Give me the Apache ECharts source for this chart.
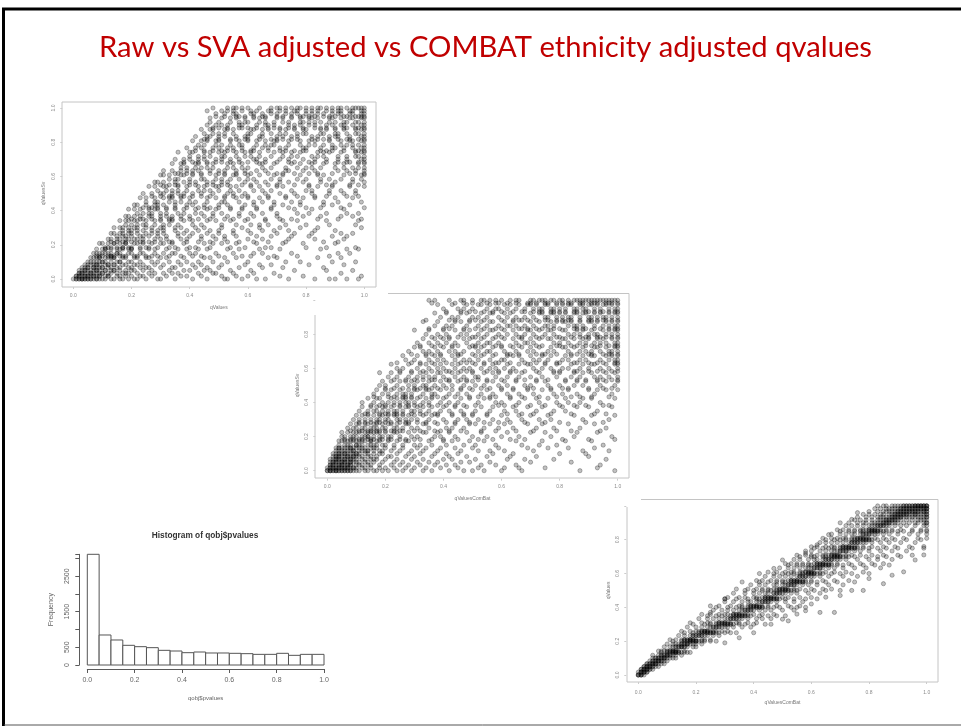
<!DOCTYPE html>
<html><head><meta charset="utf-8">
<style>html,body{margin:0;padding:0;background:#fff;overflow:hidden}
#plots,#frame{position:absolute;left:0;top:0;width:961px;height:726px}
#plots{filter:blur(0.5px)}</style>
<script src="https://cdn.jsdelivr.net/npm/echarts@6/dist/echarts.min.js"></script>
</head><body><div id="plots"></div><div id="frame"></div>
<script>
const slideTitle = 'Raw vs SVA adjusted vs COMBAT ethnicity adjusted qvalues';
const histTitle = 'Histogram of qobj$pvalues';
const histBinWidth = 0.05;
const histCounts = [3117,845,704,554,516,488,413,394,347,366,338,338,329,319,300,300,329,272,300,300];
const histYLabels = [0,500,1500,2500];

// Each row holds the x readings (hundredths) of points read at one y level; the level lists give each row's y in sixtieths.
const svaLevels = [0,1,2,3,4,5,6,7.5,9,8,10.5,12.5,11,14,16,13,18,15,20.5,17,22,19,24.5,21,26,23,28.5,25,30,27,32.5,29,34,31,36.5,33,38,35,40.5,37,42,39,44.5,41,46,43,48.5,45,50,47,52.5,49,54,51,56.5,53,58,55,59,57,60];
const combatLevels = [0,1,2,3,4,5,6,8,7,10.5,9,12,13.5,11,15,16.5,14,18,19.5,17,21,22.5,20,24,25.5,23,27,28.5,26,30,31.5,29,33,34.5,32,36,37.5,35,39,40.5,38,42,43.5,41,45,46.5,44,48,49.5,47,51,52.5,50,54,55.5,53,57,58.5,56,59,60];
const directLevels = [0,1,2,3,4,5,6,7,8.5,8,10,11,12.5,12,14,15.5,15,17,18.5,18,20,21.5,21,23,24.5,24,26,27.5,27,29,30.5,30,32,33.5,33,35,36.5,36,38,39.5,39,41,42.5,42,44,45.5,45,47,48.5,48,50,51.5,51,53,54,55,56,57,58,59,60];
const directOutliers = [[30,.45],[25,.37],[36,.55],[42,.6],[47,.63],[50,.68],[58,.72],[62,.77],[66,.83],[70,.9],[74,.92],[76,.96],[46,.3],[50,.33],[52,.32],[55,.36],[58,.38],[63,.37],[68,.37],[60,.42],[65,.46],[70,.47],[74,.5],[78,.5],[85,.54],[80,.57],[88,.59],[92,.61],[96,.68],[99,.71],[99,.76],[40,.25],[35,.22],[30,.19]];
const svaRows = [
[0,1,1,2,2,3,3,3,4,4,5,5,6,6,7,8,8,9,10,11,13,14,16,17,19,21,22,25,29,30,35,41,46,52,53,58,63,66,74,83,88,90,94,98],
[1,1,2,2,3,4,4,5,5,6,7,7,8,9,9,11,12,12,15,16,18,20,23,24,27,32,37,39,44,51,56,60,71,79,99],
[2,2,3,3,4,5,6,6,7,8,9,10,10,12,13,15,17,18,19,22,26,28,31,34,36,43,48,49,55,62,69,92],
[2,3,4,4,5,6,7,8,8,9,11,11,13,14,14,16,18,20,21,24,27,33,38,40,45,47,54,61,76,87,96],
[3,4,5,5,7,7,8,9,10,10,12,13,15,16,19,20,23,25,26,30,34,35,42,46,50,57,65,72,86],
[4,5,6,7,8,8,9,11,12,12,14,14,17,18,21,22,24,28,31,37,41,44,51,59,64,68,81,93],
[5,6,7,8,9,10,10,11,13,15,16,16,19,20,23,27,29,33,36,39,43,48,53,60,73,78,89,97],
[6,7,8,9,9,11,12,13,14,14,17,18,21,22,25,26,30,32,38,45,47,52,56,67,70,84,92],
[7,8,9,10,11,12,13,15,15,16,19,20,23,24,28,31,34,35,40,42,49,55,62,65,75,91,95],
[8,9,10,12,13,13,14,16,17,18,21,22,25,27,29,33,37,41,44,50,58,61,69,77,88],
[8,10,11,11,13,15,16,17,19,20,20,23,26,28,32,36,39,43,46,53,57,64,71,85,94,98],
[9,10,12,14,14,16,18,18,21,22,24,27,30,31,34,38,45,48,51,56,63,72,79,90],
[11,12,13,15,17,17,19,20,23,25,26,29,33,35,40,42,47,54,59,66,68,80,87,97],
[12,13,15,16,18,19,21,22,24,28,30,32,37,39,44,49,52,60,65,74,83,93],
[13,14,16,17,19,20,22,25,27,29,31,36,38,41,46,50,55,61,70,76,82,92,96],
[13,15,17,18,20,23,24,26,28,33,34,39,43,47,53,57,62,67,73,86,91],
[14,16,17,19,21,22,25,27,30,31,35,37,42,45,51,58,64,71,78,84,99],
[15,17,18,20,23,24,26,29,32,36,40,44,48,52,56,63,68,75,81,89,94],
[16,18,19,21,22,25,28,30,33,34,38,41,46,49,54,59,66,72,77,87,98],
[17,19,20,22,24,27,29,31,35,39,43,47,50,55,60,65,69,74,83,90],
[18,19,21,23,26,27,30,32,34,37,40,45,48,53,57,62,70,79,85,92,96],
[18,20,22,24,25,28,31,33,36,41,44,51,56,61,64,67,73,80,88,97],
[19,21,23,26,28,29,32,35,38,42,46,49,54,58,63,68,76,82,93],
[20,23,24,27,30,33,34,37,40,43,47,52,55,60,66,71,75,84,91,99],
[21,22,25,28,29,31,35,39,41,45,50,53,59,62,69,72,78,86,89,95],
[22,24,26,27,30,32,36,38,42,44,48,51,57,61,65,70,77,81,87,94,98],
[23,25,28,31,33,34,37,40,46,49,52,56,60,64,67,73,79,83,90,96],
[24,26,27,29,32,35,39,43,45,47,50,54,58,63,68,74,80,85,92,100],
[24,27,30,31,34,36,38,41,44,48,53,55,59,66,71,76,82,88,93,97],
[25,28,29,33,35,37,40,42,46,51,52,57,62,65,69,75,78,86,91,99],
[26,28,31,32,36,39,43,45,49,50,54,56,61,64,70,72,81,84,89,95,100],
[27,30,33,34,37,38,41,44,47,52,55,58,60,67,73,77,83,87,94,98],
[28,29,31,35,38,40,42,46,48,51,53,59,63,66,71,74,79,85,90,96,100],
[29,32,34,36,39,43,45,47,50,54,57,62,65,68,75,80,82,88,92,97],
[30,31,33,37,38,41,44,49,52,55,56,60,64,69,72,78,84,86,93,99,100],
[30,33,35,36,40,42,46,48,51,53,58,61,67,70,76,81,87,89,95,98],
[31,34,37,39,41,43,47,50,52,56,59,63,66,73,74,79,83,91,94,97,100],
[33,35,36,40,44,45,49,51,54,57,60,62,68,71,77,80,85,88,92,96,99],
[34,37,38,42,43,46,48,53,55,58,64,65,69,75,78,82,86,90,93,98,100],
[35,36,39,41,44,47,50,52,56,59,61,67,70,72,76,81,84,89,95,97,100],
[35,38,40,43,45,49,51,54,57,62,63,66,71,74,79,83,87,91,94,99,100],
[37,39,42,44,46,48,53,55,58,60,65,68,73,77,80,82,85,90,93,96,98,100],
[36,40,41,45,47,50,52,56,59,61,64,69,72,75,78,84,86,88,92,97,99,100],
[38,41,43,46,49,51,54,57,60,63,66,70,74,76,81,83,87,91,94,95,98,100],
[39,42,44,48,50,53,55,58,62,65,67,71,73,79,80,85,89,90,93,96,99,100],
[40,43,45,47,51,52,56,59,61,64,68,72,75,77,82,84,86,91,94,97,98,100],
[41,44,46,49,50,54,57,60,63,66,69,70,74,78,81,83,88,92,95,96,99,100],
[42,45,48,51,53,55,58,61,62,67,71,73,76,79,80,85,87,89,93,97,98,100],
[42,46,47,50,52,56,59,60,64,65,70,72,75,77,82,84,88,90,91,95,99,100],
[43,45,49,51,54,57,58,63,66,68,69,74,78,81,83,86,89,92,94,96,98,100],
[44,47,48,52,53,55,61,62,65,67,71,73,76,79,80,85,87,90,93,97,99,100],
[45,46,50,54,56,59,60,64,68,70,72,75,77,82,84,86,88,91,94,95,98,100],
[46,49,51,53,57,58,63,66,67,69,74,76,78,81,83,87,89,92,93,96,99,100],
[45,48,50,52,55,60,61,65,68,71,73,77,79,80,85,86,90,91,94,97,98,100],
[47,51,54,56,59,62,64,66,70,72,75,78,81,82,84,88,89,92,95,96,99,100],
[48,50,53,57,58,60,63,67,69,71,74,76,79,83,85,87,90,93,94,97,98,100],
[49,52,55,56,61,62,65,68,70,73,75,77,80,82,84,86,89,91,92,95,96,99,100],
[47,50,54,57,59,60,64,66,69,72,74,78,79,81,83,85,88,90,93,94,97,98,100],
[46,51,53,55,58,61,63,67,68,71,73,76,77,80,82,84,87,89,91,92,95,96,99,100],
[49,52,56,57,59,62,65,66,70,72,75,78,79,81,83,86,88,90,93,94,97,98,99,100],
[48,53,55,56,58,60,64,68,70,71,73,75,77,78,80,82,84,85,87,89,91,92,94,96,97,98,99,100]
];
const combatRows = [
[0,0,1,1,1,2,2,3,3,3,4,4,5,5,6,6,7,7,8,8,9,10,11,13,14,16,17,19,21,24,26,29,33,36,42,47,50,54,60,67,87,99],
[0,1,1,2,2,3,3,4,4,5,5,6,6,7,7,8,9,9,10,12,13,15,18,20,23,27,30,34,39,45,52,61,66,75,93],
[1,1,2,2,3,4,4,5,5,6,7,7,8,8,10,11,12,14,15,18,22,25,28,32,37,41,44,53,58,65,94],
[1,2,2,3,3,4,5,5,6,6,7,8,8,9,10,11,13,14,16,19,23,26,31,35,38,46,49,56,70,84],
[1,2,3,3,4,4,5,6,6,7,8,8,9,10,12,13,15,16,17,20,24,29,33,40,43,51,62,68,78,96],
[2,3,3,4,4,5,6,7,7,8,9,9,10,11,12,14,15,17,21,22,27,30,36,42,48,55,63,72,90],
[2,3,4,4,5,6,6,7,8,9,10,10,11,13,14,16,18,19,24,28,32,37,41,45,57,64,80,89],
[3,4,4,5,6,7,8,8,9,10,11,12,13,15,16,17,20,23,26,31,34,39,44,50,59,69,76,83,92],
[3,4,5,6,7,8,9,9,11,12,13,14,14,16,18,19,22,25,29,33,38,46,52,56,61,71,88,97],
[4,5,6,7,8,9,10,11,12,13,15,15,17,18,21,24,27,28,35,40,43,49,54,65,74,82,91],
[4,6,7,8,10,10,11,12,14,15,16,17,19,20,23,26,30,32,36,41,47,51,58,67,73,79,95],
[5,6,8,9,10,12,13,14,14,16,18,19,21,22,25,29,31,37,39,44,50,55,60,66,77,85,98],
[5,7,9,10,11,13,14,15,16,17,18,20,23,24,28,33,34,38,42,48,53,62,70,75,86,93],
[6,8,9,11,12,14,15,16,18,19,21,22,25,27,30,32,36,40,45,52,57,63,68,81,90,99],
[7,9,10,12,13,15,16,17,19,20,23,24,26,29,31,35,41,43,47,54,59,64,72,78,87,96],
[8,10,11,13,14,16,17,19,21,22,24,27,28,33,34,38,44,49,51,56,61,69,74,83,92],
[8,11,12,14,15,17,18,20,22,23,25,26,30,32,37,39,42,46,53,58,65,71,79,84,94],
[9,11,13,15,17,18,20,21,24,25,27,29,31,35,40,45,48,52,57,62,67,73,77,88,97],
[10,12,14,16,18,19,21,23,24,26,28,30,33,36,38,43,47,50,55,60,66,70,76,85,91,99],
[11,13,15,17,18,20,22,25,27,28,31,34,37,41,44,49,54,59,63,68,75,80,89,95],
[11,14,16,17,19,21,23,24,26,29,30,32,35,39,42,46,51,56,61,65,72,78,82,93],
[12,15,17,19,20,22,25,27,28,31,33,36,40,44,48,53,57,64,69,74,81,86,90,98],
[13,14,18,20,21,23,24,26,29,32,34,37,38,43,47,50,55,62,67,71,77,84,92,96],
[12,16,19,21,23,25,27,28,30,33,35,39,42,45,52,58,60,66,73,79,83,87,94],
[14,17,18,22,24,26,27,29,31,34,36,40,46,49,54,56,63,68,72,76,82,88,91,99],
[15,18,20,23,25,28,30,32,35,38,41,44,47,51,59,61,65,70,75,80,85,89,95,97],
[16,19,21,24,26,27,29,33,36,37,42,45,48,53,57,62,66,71,78,81,86,92,98],
[17,20,22,25,28,30,31,34,35,39,43,46,50,55,60,64,69,74,77,83,90,93,96,100],
[16,21,23,26,27,29,32,36,38,41,44,49,52,56,58,63,67,73,79,84,87,91,97],
[18,20,24,28,30,33,34,37,40,43,47,51,54,59,62,68,70,76,80,85,88,94,99],
[19,22,25,27,29,31,35,39,42,45,48,50,55,57,61,65,72,75,82,86,89,93,96,100],
[20,23,26,30,32,34,36,38,41,46,49,53,56,60,64,69,71,77,81,83,90,95,98],
[21,24,28,31,33,35,37,40,44,47,51,52,58,62,66,70,74,79,84,87,92,94,97,100],
[18,22,25,29,32,34,38,39,43,45,50,54,57,59,63,67,73,78,80,85,88,91,96,99],
[23,27,30,33,36,37,41,42,46,48,52,55,60,65,68,72,76,82,86,89,93,95,98,100],
[24,26,31,35,38,40,44,47,49,53,56,58,61,64,71,74,77,81,83,87,90,94,97,100],
[22,28,32,34,37,39,43,45,51,54,57,62,66,69,70,75,79,84,88,91,92,96,99,100],
[25,29,33,36,41,42,46,48,50,55,59,63,65,68,72,78,80,85,86,90,93,95,98,100],
[27,30,35,38,40,44,47,49,52,56,60,61,67,71,73,76,81,83,87,89,94,97,99,100],
[26,31,34,37,39,43,45,51,53,57,62,64,66,70,74,77,82,84,88,91,92,96,98,100],
[24,29,32,36,41,46,48,50,54,58,59,63,68,72,75,79,80,85,86,90,93,95,99,100],
[28,33,35,38,42,44,47,52,55,56,61,65,69,71,76,78,83,87,89,91,94,97,98,100],
[30,32,37,40,43,49,51,53,57,60,64,67,70,73,77,81,82,85,88,92,93,96,99,100],
[29,34,36,39,45,46,50,54,58,62,63,66,72,74,75,79,84,86,90,91,95,97,98,100],
[31,35,38,41,44,48,52,55,56,59,65,68,69,71,78,80,83,87,89,92,94,96,99,100],
[33,37,40,42,47,49,53,57,61,64,67,70,73,76,77,81,82,85,88,90,93,95,98,100],
[32,36,39,43,45,50,51,54,58,60,63,66,72,74,79,80,84,86,89,91,94,97,99,100],
[34,38,41,46,48,52,55,59,62,65,68,71,75,78,83,85,87,90,92,93,96,98,100],
[30,35,40,44,47,49,53,56,57,61,64,69,70,73,76,77,81,82,86,88,91,95,97,99,100],
[36,39,42,45,50,51,54,58,60,66,67,72,74,79,80,84,87,89,90,93,94,96,98,100],
[37,41,43,48,52,55,59,62,63,65,68,71,75,76,78,83,85,86,88,92,95,97,99,100],
[33,38,44,46,49,53,56,57,61,64,70,73,77,79,81,82,84,87,90,91,93,96,98,100],
[35,40,42,47,51,54,58,60,66,67,69,72,74,78,80,85,86,88,89,92,94,97,99,100],
[39,43,45,50,52,55,59,62,65,68,71,75,76,79,81,83,84,87,90,91,93,95,96,98,100],
[37,41,46,48,53,56,57,61,63,70,73,74,77,78,80,82,85,86,88,89,92,94,97,99,100],
[34,42,44,49,51,54,60,64,66,67,69,72,75,76,79,81,83,84,87,90,91,93,95,96,98,100],
[40,45,47,50,55,58,59,62,65,68,71,73,74,77,78,80,82,85,86,88,89,92,94,97,99,100],
[38,43,48,52,53,56,61,63,66,69,70,72,75,76,79,81,83,84,87,88,90,91,93,95,96,98,100],
[41,46,49,51,54,57,60,64,67,68,71,73,74,77,78,80,82,85,86,89,90,92,94,95,97,99,100],
[36,44,47,50,55,58,59,62,65,69,70,72,75,76,79,81,83,84,87,88,91,92,93,96,97,98,100],
[35,37,42,46,47,50,53,54,56,58,60,63,65,66,70,71,73,74,75,77,78,80,81,83,85,86,87,88,89,90,91,92,93,94,95,96,97,98,99,100]
];
const directRows = [
[0,0,0,1,1,1,2],
[0,1,1,1,2,2,2,3,3],
[1,1,2,2,2,3,3,3,4,4,5],
[2,2,3,3,3,4,4,4,5,5,6,7],
[3,3,4,4,5,5,5,6,6,6,7,8,9],
[4,5,5,6,6,7,7,7,8,8,9,10],
[5,6,6,7,7,8,8,9,9,9,10,11,12,13],
[5,7,8,8,9,9,10,10,10,11,11,12,13,15],
[7,8,9,10,10,11,11,12,12,12,13,13,14,16],
[8,10,11,12,12,13,13,13,14,14,15,16,17,18],
[9,11,12,13,13,14,14,15,15,15,16,16,17,19,20],
[10,12,13,14,15,15,16,16,17,17,17,18,19,20,22],
[11,13,15,16,16,17,17,18,18,18,19,19,20,22,23,25],
[12,15,16,17,18,18,19,19,20,20,20,21,22,23,25,27],
[14,16,18,19,19,20,20,21,21,22,22,23,24,26,28],
[15,18,20,21,22,22,23,23,23,24,24,25,26,27,29,31],
[16,19,21,22,23,24,24,25,25,26,26,27,28,30,32,34],
[17,20,22,24,25,26,26,27,27,28,28,29,30,31,33,36,39],
[18,22,24,25,27,28,28,29,29,30,30,31,32,34,35,38,41],
[19,23,25,27,28,29,30,30,31,31,32,32,33,35,37,40,44],
[21,24,26,28,30,31,32,32,33,33,34,34,35,36,38,41,43,46],
[22,25,28,30,31,33,33,34,34,35,35,36,37,38,40,43,47],
[24,27,29,32,33,34,35,35,36,36,37,37,38,39,42,45,48,51],
[26,29,31,33,35,36,37,37,38,38,39,39,40,42,44,46,50,54],
[25,28,32,35,36,38,39,39,40,40,41,41,42,43,45,48,52,56],
[27,31,34,36,38,39,40,41,41,42,42,43,43,45,47,49,53,55,58],
[30,33,36,38,39,41,42,43,43,44,44,45,45,46,48,51,54,57],
[31,35,37,40,41,43,44,44,45,45,46,46,47,48,50,52,56,60],
[30,34,38,41,42,44,45,46,46,47,47,48,48,49,51,54,58,62],
[33,37,40,42,44,45,47,47,48,48,49,49,50,51,53,55,59,63],
[34,38,41,43,45,47,48,49,49,50,50,51,51,52,54,56,60,64,67],
[37,40,43,45,46,48,49,50,51,51,52,52,53,54,55,58,61,65,70],
[39,42,44,47,48,50,51,52,52,53,53,54,54,55,57,59,62,66,71],
[41,43,46,48,50,52,53,53,54,54,55,55,56,57,58,60,64,68,73],
[42,45,48,50,51,53,54,55,55,56,56,57,57,58,60,62,65,69,75],
[44,47,49,51,53,55,56,56,57,57,58,58,59,60,61,63,66,71,76],
[45,48,51,53,54,56,57,58,58,59,59,60,60,61,63,65,68,72,78],
[47,50,52,54,56,57,59,59,60,60,61,61,62,63,64,67,70,74,80],
[49,52,54,56,58,59,60,61,61,62,62,63,63,64,66,68,71,75,79,84],
[51,53,55,57,59,61,62,62,63,63,64,64,65,66,67,69,73,77,81,85],
[52,55,57,59,60,62,63,64,64,65,65,66,66,67,69,71,74,78,82,87],
[54,56,59,61,62,64,65,65,66,66,67,67,68,69,70,72,76,80,83,88],
[55,58,60,62,64,65,66,67,67,68,68,69,69,70,72,74,77,81,85,90,95],
[56,60,61,64,65,67,68,68,69,69,70,70,71,72,73,75,79,83,86,91],
[58,60,63,65,67,68,69,70,70,71,71,72,72,73,75,77,80,84,88,93],
[60,62,65,67,68,70,71,71,72,72,73,73,74,75,76,78,81,85,89,94],
[61,64,66,68,70,71,72,73,73,74,74,75,75,76,78,80,83,86,90,95,99],
[63,65,67,69,71,73,74,74,75,75,76,76,77,78,79,81,84,87,91,96],
[64,67,69,71,72,74,75,76,76,77,77,78,78,79,80,82,85,88,92,97,100],
[65,68,70,72,74,75,76,77,78,78,79,79,80,80,81,83,86,89,93,98],
[67,70,72,74,75,77,78,78,79,79,80,80,81,82,83,85,87,90,94,97,100],
[69,71,73,75,77,78,79,80,80,81,81,82,82,83,84,86,88,91,95,98,100],
[70,73,75,77,78,80,81,81,82,82,83,83,84,85,86,88,90,92,95,98,100],
[72,74,76,78,80,81,82,83,83,84,84,85,85,86,87,89,91,93,96,99,100],
[73,76,78,79,81,82,83,84,85,85,86,86,87,87,88,89,90,92,94,96,97,99,100,100],
[75,77,79,81,83,84,85,86,86,87,87,88,88,89,89,90,91,93,95,97,98,99,100],
[76,79,81,83,84,85,86,87,88,88,89,89,90,90,91,91,92,93,94,95,96,97,98,99,100,100],
[78,80,82,84,85,87,88,89,89,90,90,91,91,92,92,93,93,94,95,96,96,97,98,99,100,100],
[80,83,85,86,87,88,89,90,90,91,91,92,92,93,93,94,94,95,95,96,96,97,97,98,99,99,100,100],
[82,84,86,87,88,89,90,91,91,92,92,93,93,94,94,95,95,96,96,97,97,98,98,99,99,100,100,100],
[83,85,86,88,89,90,91,92,92,93,93,94,94,95,95,96,96,96,97,97,97,98,98,98,99,99,99,100,100,100]
];

const toPoints = (rows, levels) => rows.flatMap((xs, i) => xs.map(x => [x / 100, levels[i] / 60]));
const GRAY = '#8a8a8a';
const rect = (x0, x1, yTop, yBot) => ({ left: x0, width: x1 - x0, top: yTop, height: yBot - yTop });

function valueAxis(gridIndex, name, nameGap, offset, rotate, labelMargin, hideTop) {
  return {
    type: 'value', gridIndex, min: 0, max: 1, interval: 0.2, offset, name, nameLocation: 'middle', nameGap,
    nameTextStyle: { fontSize: 5, color: '#777', fontFamily: 'Liberation Sans' },
    splitLine: { show: false }, axisLine: { show: false, onZero: false },
    axisTick: { show: true, length: 2, lineStyle: { color: '#ccc', width: 1 } },
    axisLabel: { fontSize: 5, color: GRAY, rotate, margin: labelMargin, fontFamily: 'Liberation Sans',
      formatter: v => (hideTop && v === 1) ? '' : v.toFixed(1) }
  };
}

const scatterStyle = { color: 'rgba(0,0,0,0.3)', borderColor: 'rgba(0,0,0,0.5)', borderWidth: 0.7 };
const scatter = (i, data) => ({
  type: 'scatter', xAxisIndex: i, yAxisIndex: i, data, symbolSize: 4.2,
  itemStyle: scatterStyle, silent: true, animation: false, clip: false
});
const histAxisColor = '#5a5a5a';

const plotOption = {
  animation: false,
  title: [
    { text: histTitle, left: 200, top: 527, textAlign: 'center',
      textStyle: { color: '#333', fontSize: 8.3, fontWeight: 'bold', fontFamily: 'Liberation Sans' } }
  ],
  grid: [ rect(73.3, 364.3, 108, 279), rect(327.3, 617.7, 300.3, 470.7), rect(638.3, 926.7, 505.9, 675), rect(87.3, 324, 554.3, 665) ],
  xAxis: [
    valueAxis(0, 'qValues', 18, 8, 0, 6, false),
    valueAxis(1, 'qValuesComBat', 17, 8, 0, 5, false),
    valueAxis(2, 'qValuesComBat', 18, 7, 0, 8, false),
    { type: 'value', gridIndex: 3, min: 0, max: 1, interval: 0.2, offset: 4, name: 'qobj$pvalues',
      nameLocation: 'middle', nameGap: 26, nameTextStyle: { fontSize: 6, color: '#666', fontFamily: 'Liberation Sans' },
      splitLine: { show: false }, axisLine: { show: true, onZero: false, lineStyle: { color: histAxisColor } },
      axisTick: { length: 4, lineStyle: { color: histAxisColor } },
      axisLabel: { fontSize: 7, color: '#666', margin: 8, fontFamily: 'Liberation Sans', formatter: v => v.toFixed(1) } }
  ],
  yAxis: [
    valueAxis(0, 'qValuesSv', 16, 11, 90, 6, false),
    valueAxis(1, 'qValuesSv', 15, 12, 90, 6, true),
    valueAxis(2, 'qValues', 15, 12, 90, 6, true),
    { type: 'value', gridIndex: 3, min: 0, max: histCounts[0], interval: 500, offset: 8, name: 'Frequency',
      nameLocation: 'middle', nameGap: 25, nameRotate: 90, nameTextStyle: { fontSize: 7, color: '#666', fontFamily: 'Liberation Sans' },
      splitLine: { show: false }, axisLine: { show: true, onZero: false, lineStyle: { color: histAxisColor } },
      axisTick: { length: 4, lineStyle: { color: histAxisColor } },
      axisLabel: { fontSize: 7, color: '#666', rotate: 90, margin: 9, fontFamily: 'Liberation Sans',
        formatter: v => histYLabels.includes(v) ? String(v) : '' } }
  ],
  series: [
    scatter(0, toPoints(svaRows, svaLevels)),
    scatter(1, toPoints(combatRows, combatLevels)),
    scatter(2, toPoints(directRows, directLevels).concat(directOutliers.map(p => [p[0] / 100, p[1]]))),
    { type: 'custom', xAxisIndex: 3, yAxisIndex: 3, silent: true,
      data: histCounts.map((c, i) => [i * histBinWidth, c]),
      encode: { x: 0, y: 1 },
      renderItem: (params, api) => {
        const a = api.coord([api.value(0), 0]);
        const b = api.coord([api.value(0) + histBinWidth, api.value(1)]);
        return { type: 'rect', shape: { x: a[0], y: b[1], width: b[0] - a[0], height: a[1] - b[1] },
          style: { fill: '#fff', stroke: '#555', lineWidth: 1 } };
      } }
  ],
  graphic: [
    { type: 'polyline', shape: { points: [[62, 102], [376, 102], [376, 287], [62, 287], [62, 102]] }, style: { stroke: '#c4c4c4', lineWidth: 1, fill: null }, silent: true },
    { type: 'polyline', shape: { points: [[388, 293.5], [629, 293.5], [629, 478], [315, 478], [315, 315]] }, style: { stroke: '#c4c4c4', lineWidth: 1, fill: null }, silent: true },
    { type: 'polyline', shape: { points: [[641, 499.5], [938, 499.5], [938, 682], [627, 682], [627, 507]] }, style: { stroke: '#c4c4c4', lineWidth: 1, fill: null }, silent: true }
  ]
};
const frameOption = {
  animation: false,
  title: { text: slideTitle, left: 480.5, top: 28, textAlign: 'center',
    textStyle: { color: '#c00000', fontSize: 29.2, fontWeight: 'normal', fontFamily: 'Lato' } },
  graphic: [
    { type: 'polyline', shape: { points: [[3.5, 726], [3.5, 9], [961, 9]] }, style: { stroke: '#000', lineWidth: 3, fill: null }, silent: true },
    { type: 'line', shape: { x1: 4, y1: 725, x2: 961, y2: 725 }, style: { stroke: '#555', lineWidth: 1 }, silent: true }
  ]
};
echarts.init(document.getElementById('plots')).setOption(plotOption);
echarts.init(document.getElementById('frame')).setOption(frameOption);
</script></body></html>
